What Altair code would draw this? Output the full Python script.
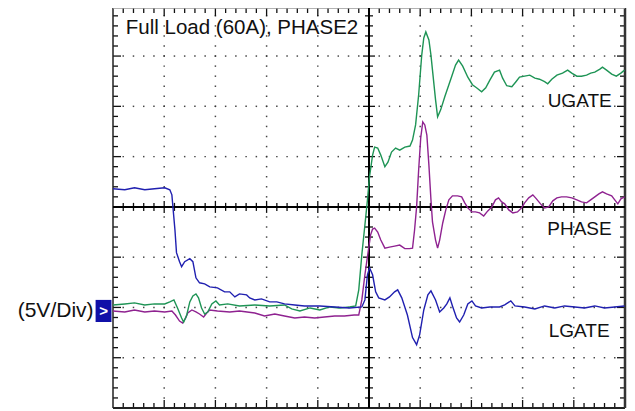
import altair as alt
import pandas as pd

# Oscilloscope capture: time in screen divisions (0..10), level in divisions (5 V/div)
lgate_t = [0.0, 0.23, 0.42, 0.62, 0.81, 1.01, 1.11, 1.15, 1.21, 1.24, 1.30, 1.34, 1.40, 1.50, 1.56, 1.62, 1.69, 1.79, 1.89, 2.04,
           2.18, 2.28, 2.38, 2.47, 2.61, 2.67, 2.77, 2.90, 3.06, 3.20, 3.35, 3.55, 3.74, 4.04, 4.33, 4.62, 4.86, 4.92, 4.97, 5.01,
           5.07, 5.13, 5.19, 5.31, 5.40, 5.50, 5.56, 5.64, 5.75, 5.85, 5.93, 5.99, 6.07, 6.15, 6.21, 6.30, 6.38, 6.46, 6.52, 6.58,
           6.63, 6.71, 6.77, 6.85, 6.93, 7.01, 7.08, 7.20, 7.36, 7.55, 7.65, 7.77, 7.85, 8.04, 8.24, 8.43, 8.63, 8.82, 9.02, 9.21,
           9.41, 9.60, 9.80, 9.99]
lgate_v = [0.36, 0.34, 0.38, 0.34, 0.36, 0.38, 0.34, 0.24, -0.46, -0.91, -1.09, -1.19, -1.09, -1.03, -1.09, -1.41, -1.51, -1.53, -1.59, -1.61,
           -1.69, -1.69, -1.79, -1.73, -1.75, -1.81, -1.85, -1.83, -1.89, -1.89, -1.93, -1.95, -1.97, -1.97, -1.99, -2.01, -1.99, -1.85, -1.35, -1.21,
           -1.35, -1.69, -1.81, -1.85, -1.79, -1.69, -1.65, -1.81, -2.15, -2.60, -2.74, -2.54, -2.05, -1.75, -1.67, -1.85, -2.09, -2.01, -1.93, -1.81,
           -1.97, -2.21, -2.29, -2.15, -1.93, -1.87, -1.97, -2.01, -1.99, -1.99, -1.95, -1.87, -1.97, -1.99, -2.03, -1.97, -2.01, -1.97, -1.99, -2.01,
           -1.97, -2.01, -1.99, -1.97]

ugate_t = [0.0, 0.23, 0.42, 0.62, 0.81, 1.01, 1.11, 1.19, 1.26, 1.34, 1.38, 1.44, 1.50, 1.56, 1.62, 1.67, 1.73, 1.79, 1.85, 1.93,
           2.01, 2.08, 2.24, 2.47, 2.77, 3.06, 3.35, 3.49, 3.65, 3.85, 4.04, 4.23, 4.43, 4.62, 4.74, 4.80, 4.86, 4.92, 4.97, 5.01,
           5.07, 5.11, 5.17, 5.23, 5.31, 5.37, 5.44, 5.52, 5.60, 5.70, 5.80, 5.85, 5.91, 5.97, 6.03, 6.07, 6.11, 6.17, 6.21, 6.24,
           6.30, 6.34, 6.40, 6.48, 6.56, 6.61, 6.69, 6.75, 6.83, 6.93, 7.02, 7.10, 7.20, 7.28, 7.36, 7.45, 7.55, 7.61, 7.69, 7.79,
           7.87, 7.94, 8.04, 8.14, 8.24, 8.33, 8.43, 8.49, 8.57, 8.67, 8.78, 8.88, 8.96, 9.06, 9.15, 9.25, 9.33, 9.41, 9.51, 9.56,
           9.64, 9.74, 9.83, 9.92, 9.99]
ugate_v = [-1.95, -1.93, -1.91, -1.95, -1.93, -1.93, -1.89, -1.85, -2.01, -2.21, -2.29, -2.15, -1.89, -1.77, -1.73, -1.81, -2.01, -2.13, -2.09, -1.93,
           -1.87, -1.95, -1.93, -1.97, -1.95, -1.97, -1.95, -2.03, -2.07, -2.01, -2.05, -1.99, -2.01, -1.99, -1.97, -1.65, -0.95, -0.36, 0.14, 0.60,
           1.03, 1.19, 1.17, 1.03, 0.80, 0.89, 1.09, 1.17, 1.13, 1.19, 1.21, 1.33, 1.63, 2.23, 3.02, 3.36, 3.48, 3.32, 3.02, 2.72,
           2.13, 1.79, 1.93, 2.19, 2.43, 2.58, 2.82, 2.92, 2.80, 2.58, 2.43, 2.37, 2.29, 2.37, 2.52, 2.68, 2.72, 2.56, 2.41, 2.39,
           2.49, 2.58, 2.60, 2.62, 2.56, 2.54, 2.49, 2.45, 2.54, 2.62, 2.66, 2.72, 2.66, 2.60, 2.60, 2.62, 2.66, 2.68, 2.74, 2.78,
           2.72, 2.64, 2.60, 2.66, 2.72]

phase_t = [0.0, 0.23, 0.42, 0.62, 0.81, 1.01, 1.15, 1.22, 1.30, 1.36, 1.42, 1.46, 1.54, 1.62, 1.69, 1.77, 1.83, 1.89, 2.04, 2.28,
           2.47, 2.77, 2.96, 3.16, 3.35, 3.55, 3.74, 3.94, 4.13, 4.33, 4.52, 4.71, 4.80, 4.86, 4.92, 4.97, 5.03, 5.07, 5.11, 5.17,
           5.23, 5.31, 5.40, 5.50, 5.60, 5.70, 5.79, 5.85, 5.89, 5.93, 5.97, 6.01, 6.05, 6.09, 6.13, 6.17, 6.21, 6.24, 6.30, 6.34,
           6.38, 6.44, 6.50, 6.56, 6.63, 6.73, 6.81, 6.87, 6.93, 7.01, 7.08, 7.16, 7.24, 7.32, 7.40, 7.47, 7.53, 7.59, 7.65, 7.73,
           7.81, 7.90, 7.98, 8.04, 8.12, 8.20, 8.27, 8.35, 8.43, 8.51, 8.59, 8.67, 8.76, 8.86, 8.96, 9.06, 9.15, 9.25, 9.33, 9.41,
           9.49, 9.56, 9.64, 9.74, 9.80, 9.86, 9.92, 9.99]
phase_v = [-2.07, -2.09, -2.05, -2.09, -2.07, -2.09, -2.07, -2.15, -2.27, -2.31, -2.21, -2.11, -2.05, -2.09, -2.13, -2.19, -2.11, -2.05, -2.07, -2.09,
           -2.07, -2.11, -2.17, -2.13, -2.17, -2.21, -2.19, -2.21, -2.19, -2.17, -2.17, -2.15, -2.15, -1.85, -1.35, -0.99, -0.56, -0.44, -0.42, -0.50,
           -0.66, -0.82, -0.80, -0.78, -0.76, -0.83, -0.83, -0.82, -0.46, 0.00, 0.74, 1.37, 1.69, 1.63, 1.43, 0.83, 0.14, -0.30, -0.66, -0.82,
           -0.66, -0.32, -0.06, 0.14, 0.22, 0.22, 0.20, 0.08, -0.02, -0.10, -0.10, -0.12, -0.18, -0.08, 0.00, 0.14, 0.18, 0.10, 0.06, -0.06,
           -0.12, -0.10, -0.02, 0.08, 0.18, 0.24, 0.16, 0.06, -0.02, 0.00, 0.12, 0.18, 0.20, 0.20, 0.18, 0.14, 0.10, 0.08, 0.14, 0.20,
           0.26, 0.30, 0.26, 0.22, 0.14, 0.06, 0.16, 0.20]

# Text annotations
title_text = ["Full Load (60A), PHASE2"]
trace_labels = ["UGATE", "PHASE", "LGATE"]
label_t = [9.74, 9.74, 9.70]
label_v = [1.99, -0.56, -2.58]
scale_label = ["(5V/Div)"]

X_DOM = [0, 10]
Y_TOP = 3.956
Y_DOM = [-4, Y_TOP]
PX_X = 51.2   # pixels per horizontal division
PX_Y = 50.25  # pixels per vertical division


def xe(f):
    return alt.X(f"{f}:Q", scale=alt.Scale(domain=X_DOM, nice=False, zero=False), axis=None)


def ye(f):
    return alt.Y(f"{f}:Q", scale=alt.Scale(domain=Y_DOM, nice=False, zero=False), axis=None)


# ---- graticule: dotted grid ----
dots = []
for gy in [-3, -2, -1, 1, 2, 3]:
    for k in range(1, 50):
        dots.append({"t": k * 0.2, "v": gy})
for gx in [1, 2, 3, 4, 6, 7, 8, 9]:
    for k in range(-19, 20):
        dots.append({"t": gx, "v": k * 0.2})
dots_layer = alt.Chart(pd.DataFrame(dots)).mark_square(size=2.2, color="#333333", opacity=0.9).encode(
    x=xe("t"), y=ye("v"))

# ---- tick marks on centre axes and frame ----
segs = []
for k in range(1, 50):
    t = k * 0.2
    major = k % 5 == 0
    L = (6 if major else 4) / PX_Y
    segs.append({"t": t, "v": -L, "t2": t, "v2": L})
    Le = (8 if major else 5) / PX_Y
    segs.append({"t": t, "v": Y_TOP, "t2": t, "v2": Y_TOP - Le})
    segs.append({"t": t, "v": -4, "t2": t, "v2": -4 + Le})
for k in range(-19, 20):
    v = k * 0.2
    major = k % 5 == 0
    L = (6 if major else 4) / PX_X
    segs.append({"t": 5 - L, "v": v, "t2": 5 + L, "v2": v})
    Le = (8 if major else 5) / PX_X
    segs.append({"t": 0, "v": v, "t2": Le, "v2": v})
    segs.append({"t": 10, "v": v, "t2": 10 - Le, "v2": v})
ticks_layer = alt.Chart(pd.DataFrame(segs)).mark_rule(color="#111111", strokeWidth=1.3).encode(
    x=xe("t"), y=ye("v"), x2="t2:Q", y2="v2:Q")

axes_df = pd.DataFrame([
    {"t": 0, "v": 0, "t2": 10, "v2": 0},
    {"t": 5, "v": -4, "t2": 5, "v2": Y_TOP},
])
axes_layer = alt.Chart(axes_df).mark_rule(color="#000000", strokeWidth=2).encode(
    x=xe("t"), y=ye("v"), x2="t2:Q", y2="v2:Q")

frame_df = pd.DataFrame([
    {"t": 0, "v": -4, "t2": 0, "v2": Y_TOP, "w": 1.5, "c": "#222222"},
    {"t": 0, "v": -4, "t2": 10, "v2": -4, "w": 2, "c": "#222222"},
    {"t": 10, "v": -4, "t2": 10, "v2": Y_TOP, "w": 2.5, "c": "#333333"},
    {"t": 0, "v": Y_TOP, "t2": 10, "v2": Y_TOP, "w": 1.5, "c": "#999999"},
])
frame_layer = alt.Chart(frame_df).mark_rule().encode(
    x=xe("t"), y=ye("v"), x2="t2:Q", y2="v2:Q",
    color=alt.Color("c:N", scale=None), strokeWidth=alt.StrokeWidth("w:Q", scale=None))


def trace(ts, vs, color):
    df = pd.DataFrame({"t": ts, "v": vs, "i": list(range(len(ts)))})
    return alt.Chart(df).mark_line(color=color, strokeWidth=1.4).encode(
        x=xe("t"), y=ye("v"), order="i:Q")


phase_layer = trace(phase_t, phase_v, "#8f2290")
ugate_layer = trace(ugate_t, ugate_v, "#1e9455")
lgate_layer = trace(lgate_t, lgate_v, "#2020b0")

FONT = "Liberation Sans"
title_layer = alt.Chart(pd.DataFrame({"t": [0.25], "v": [3.44], "s": title_text})).mark_text(
    align="left", baseline="alphabetic", font=FONT, fontSize=20.5, color="#111111").encode(
    x=xe("t"), y=ye("v"), text="s:N")

labels_layer = alt.Chart(pd.DataFrame({"t": label_t, "v": label_v, "s": trace_labels})).mark_text(
    align="right", baseline="alphabetic", font=FONT, fontSize=19, color="#111111").encode(
    x=xe("t"), y=ye("v"), text="s:N")

scale_layer = alt.Chart(pd.DataFrame({"t": [-0.38], "v": [-2.19], "s": scale_label})).mark_text(
    align="right", baseline="alphabetic", font=FONT, fontSize=21, color="#111111").encode(
    x=xe("t"), y=ye("v"), text="s:N")

marker_layer = alt.Chart(pd.DataFrame({"t": [-0.34], "t2": [-0.03], "v": [-1.85], "v2": [-2.29]})).mark_rect(
    color="#1010a8").encode(x=xe("t"), x2="t2:Q", y=ye("v"), y2="v2:Q")
marker_text = alt.Chart(pd.DataFrame({"t": [-0.185], "v": [-2.07], "s": [">"]})).mark_text(
    align="center", baseline="middle", font=FONT, fontSize=15, fontWeight="bold", color="#ffffff").encode(
    x=xe("t"), y=ye("v"), text="s:N")

chart = alt.layer(
    dots_layer, ticks_layer, frame_layer, axes_layer,
    phase_layer, ugate_layer, lgate_layer,
    title_layer, labels_layer, scale_layer, marker_layer, marker_text,
).properties(
    width=512, height=400,
    autosize=alt.AutoSizeParams(type="none"),
    padding={"left": 105, "top": 0, "right": 2, "bottom": 3},
    background="white",
).configure_view(stroke=None)

chart.save("out.html", embed_options={"renderer": "svg", "actions": False})
